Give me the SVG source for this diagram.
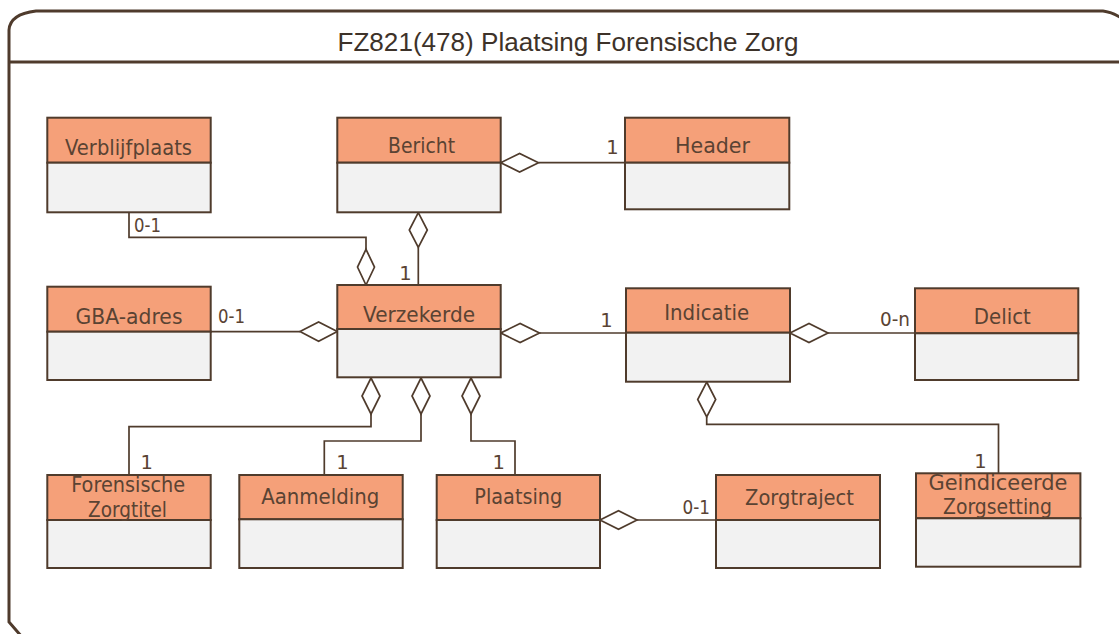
<svg xmlns="http://www.w3.org/2000/svg" width="1119" height="634" viewBox="0 0 1119 634">
<style>
.frame{fill:none;stroke:#4f3b2c;stroke-width:3}
.hd{fill:#f5a079;stroke:#4f3b2c;stroke-width:2}
.bd{fill:#f2f2f2;stroke:#4f3b2c;stroke-width:2}
.lbl{font-family:"DejaVu Sans",sans-serif;font-size:20.5px;fill:#5a4333;text-anchor:middle}
.m{font-family:"DejaVu Sans",sans-serif;font-size:19.5px;fill:#5a4333}
.mc{font-family:"DejaVu Sans",sans-serif;font-size:19.5px;fill:#5a4333;text-anchor:middle}
.ln{fill:none;stroke:#4f3b2c;stroke-width:1.7}
.dm{fill:#ffffff;stroke:#4f3b2c;stroke-width:1.7;stroke-linejoin:miter}
.title{font-family:"Liberation Sans",Arial,sans-serif;font-size:26px;fill:#3d3229;text-anchor:middle}
</style>
<rect x="0" y="0" width="1119" height="634" fill="#ffffff"/>
<g id="frame">
<path class="frame" d="M 22,637 L 9,622 L 9,30 Q 10,14 36,11 L 1103,11 Q 1112,12 1123,19"/>
<path class="frame" d="M 9,62 H 1123"/>
<text class="title" x="568" y="51" textLength="461" lengthAdjust="spacingAndGlyphs">FZ821(478) Plaatsing Forensische Zorg</text>
</g>
<g id="connectors">
<path class="ln" d="M 538.5,162.7 H 625"/>
<path class="dm" d="M 500.7,162.7 L 519.6,153.4 L 538.5,162.7 L 519.6,172 Z"/>
<path class="ln" d="M 418.3,247.3 V 285"/>
<path class="dm" d="M 418.3,212.7 L 427.3,230 L 418.3,247.3 L 409.3,230 Z"/>
<path class="ln" d="M 129,212 V 237.3 H 366 V 249.3"/>
<path class="dm" d="M 366,285 L 374.5,267.1 L 366,249.3 L 357.5,267.1 Z"/>
<path class="ln" d="M 210.7,331.6 H 300"/>
<path class="dm" d="M 337.3,331.6 L 318.6,322 L 300,331.6 L 318.6,341.2 Z"/>
<path class="ln" d="M 539.5,333 H 626"/>
<path class="dm" d="M 500.7,333 L 520.1,323.5 L 539.5,333 L 520.1,342.5 Z"/>
<path class="ln" d="M 828,333 H 915"/>
<path class="dm" d="M 790,333 L 809,323.5 L 828,333 L 809,342.5 Z"/>
<path class="ln" d="M 371,414 V 426.7 H 129 V 475"/>
<path class="dm" d="M 371,378 L 380,396 L 371,414 L 362,396 Z"/>
<path class="ln" d="M 421,414 V 441 H 324.3 V 475"/>
<path class="dm" d="M 421,378 L 430,396 L 421,414 L 412,396 Z"/>
<path class="ln" d="M 471,414 V 441 H 515 V 475"/>
<path class="dm" d="M 471,378 L 480,396 L 471,414 L 462,396 Z"/>
<path class="ln" d="M 706.7,417 V 424.3 H 998.5 V 473.3"/>
<path class="dm" d="M 706.7,382 L 715.7,399.5 L 706.7,417 L 697.7,399.5 Z"/>
<path class="ln" d="M 637,520 H 716"/>
<path class="dm" d="M 600,520 L 618.5,510.7 L 637,520 L 618.5,529.3 Z"/>
<text class="mc" x="612.5" y="154.3">1</text>
<text class="m" x="134" y="231.7" textLength="27" lengthAdjust="spacingAndGlyphs">0-1</text>
<text class="mc" x="405.5" y="280">1</text>
<text class="m" x="218" y="323.3" textLength="27" lengthAdjust="spacingAndGlyphs">0-1</text>
<text class="mc" x="606.5" y="327">1</text>
<text class="m" x="880" y="325.7" textLength="30" lengthAdjust="spacingAndGlyphs">0-n</text>
<text class="mc" x="146.7" y="469.3">1</text>
<text class="mc" x="342.5" y="469.3">1</text>
<text class="mc" x="498.8" y="469.3">1</text>
<text class="m" x="682.5" y="514" textLength="27.5" lengthAdjust="spacingAndGlyphs">0-1</text>
<text class="mc" x="980.5" y="467.7">1</text>
</g>
<g id="Verblijfplaats">
<rect class="hd" x="47.3" y="117.7" width="163.4" height="45"/>
<rect class="bd" x="47.3" y="162.7" width="163.4" height="49.6"/>
<text class="lbl" x="128.5" y="155.3" textLength="127" lengthAdjust="spacingAndGlyphs">Verblijfplaats</text>
</g>
<g id="Bericht">
<rect class="hd" x="337.3" y="117.7" width="163.4" height="45"/>
<rect class="bd" x="337.3" y="162.7" width="163.4" height="49.6"/>
<text class="lbl" x="421.5" y="153.3" textLength="67" lengthAdjust="spacingAndGlyphs">Bericht</text>
</g>
<g id="Header">
<rect class="hd" x="625" y="117.7" width="164.3" height="45"/>
<rect class="bd" x="625" y="162.7" width="164.3" height="46.6"/>
<text class="lbl" x="712.5" y="153.3" textLength="75" lengthAdjust="spacingAndGlyphs">Header</text>
</g>
<g id="GBA-adres">
<rect class="hd" x="47.3" y="286.7" width="163.4" height="45"/>
<rect class="bd" x="47.3" y="331.7" width="163.4" height="48.3"/>
<text class="lbl" x="129" y="324.3" textLength="107" lengthAdjust="spacingAndGlyphs">GBA-adres</text>
</g>
<g id="Verzekerde">
<rect class="hd" x="337.3" y="285" width="163.4" height="44"/>
<rect class="bd" x="337.3" y="329" width="163.4" height="48.3"/>
<text class="lbl" x="419" y="321.7" textLength="112" lengthAdjust="spacingAndGlyphs">Verzekerde</text>
</g>
<g id="Indicatie">
<rect class="hd" x="626" y="288.3" width="164" height="44.4"/>
<rect class="bd" x="626" y="332.7" width="164" height="49"/>
<text class="lbl" x="706.7" y="320" textLength="85" lengthAdjust="spacingAndGlyphs">Indicatie</text>
</g>
<g id="Delict">
<rect class="hd" x="915" y="288.3" width="163.3" height="45"/>
<rect class="bd" x="915" y="333.3" width="163.3" height="46.7"/>
<text class="lbl" x="1002.3" y="324" textLength="57" lengthAdjust="spacingAndGlyphs">Delict</text>
</g>
<g id="ForensischeZorgtitel">
<rect class="hd" x="47.3" y="475" width="163.4" height="45"/>
<rect class="bd" x="47.3" y="520" width="163.4" height="48"/>
<text class="lbl" x="128.2" y="491.7" textLength="114" lengthAdjust="spacingAndGlyphs">Forensische</text>
<text class="lbl" x="127.5" y="516.7" textLength="79" lengthAdjust="spacingAndGlyphs">Zorgtitel</text>
</g>
<g id="Aanmelding">
<rect class="hd" x="239.3" y="475" width="163.4" height="44.3"/>
<rect class="bd" x="239.3" y="519.3" width="163.4" height="48.7"/>
<text class="lbl" x="320.2" y="504.3" textLength="118" lengthAdjust="spacingAndGlyphs">Aanmelding</text>
</g>
<g id="Plaatsing">
<rect class="hd" x="436.7" y="475" width="163.3" height="45"/>
<rect class="bd" x="436.7" y="520" width="163.3" height="48"/>
<text class="lbl" x="518.3" y="504.3" textLength="88" lengthAdjust="spacingAndGlyphs">Plaatsing</text>
</g>
<g id="Zorgtraject">
<rect class="hd" x="716" y="475" width="164" height="45"/>
<rect class="bd" x="716" y="520" width="164" height="48"/>
<text class="lbl" x="799.5" y="505" textLength="109" lengthAdjust="spacingAndGlyphs">Zorgtraject</text>
</g>
<g id="GeindiceerdeZorgsetting">
<rect class="hd" x="916" y="473.3" width="164.4" height="45"/>
<rect class="bd" x="916" y="518.3" width="164.4" height="48.4"/>
<text class="lbl" x="998" y="490" textLength="139" lengthAdjust="spacingAndGlyphs">Geindiceerde</text>
<text class="lbl" x="997.5" y="514" textLength="109" lengthAdjust="spacingAndGlyphs">Zorgsetting</text>
</g>
</svg>
